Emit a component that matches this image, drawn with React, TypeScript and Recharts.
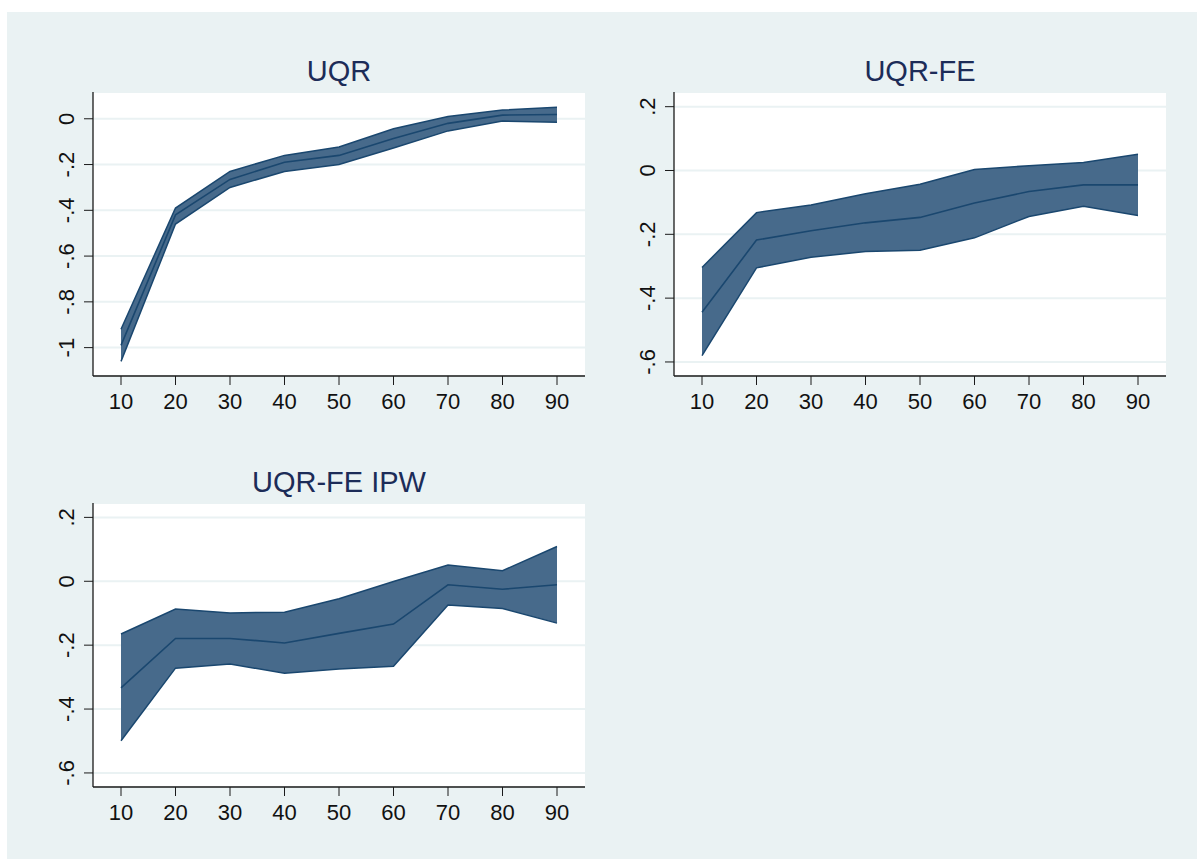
import { ComposedChart, Area, Line, XAxis, YAxis, CartesianGrid } from 'recharts';

const quantiles = [10, 20, 30, 40, 50, 60, 70, 80, 90];

// UQR
const uqrMid = [-0.99, -0.42, -0.265, -0.19, -0.16, -0.086, -0.02, 0.016, 0.019];
const uqrLo = [-1.06, -0.46, -0.3, -0.23, -0.2, -0.128, -0.053, -0.01, -0.015];
const uqrHi = [-0.92, -0.39, -0.23, -0.16, -0.123, -0.044, 0.01, 0.038, 0.05];

// UQR-FE
const feMid = [-0.444, -0.218, -0.189, -0.164, -0.147, -0.102, -0.066, -0.045, -0.045];
const feLo = [-0.58, -0.305, -0.272, -0.254, -0.25, -0.211, -0.144, -0.112, -0.141];
const feHi = [-0.304, -0.132, -0.108, -0.073, -0.043, 0.003, 0.015, 0.025, 0.051];

// UQR-FE IPW
const ipwMid = [-0.334, -0.179, -0.179, -0.193, -0.163, -0.134, -0.011, -0.025, -0.011];
const ipwLo = [-0.499, -0.272, -0.259, -0.288, -0.275, -0.266, -0.074, -0.085, -0.131];
const ipwHi = [-0.165, -0.087, -0.099, -0.097, -0.055, -0.001, 0.051, 0.033, 0.109];

const uqrTicks = [-1, -0.8, -0.6, -0.4, -0.2, 0];
const feTicks = [-0.6, -0.4, -0.2, 0, 0.2];

const FONT = '"Liberation Sans", Arial, Helvetica, sans-serif';
const BG = '#eaf2f3';
const NAVY = '#1a476f';
const BAND = '#476a8b';

const fmt = (v: number) => {
  const r = Math.round(v * 10) / 10;
  if (r === 0) return '0';
  const s = String(Math.abs(r)).replace(/^0/, '');
  return (r < 0 ? '-' : '') + s;
};

function YTick(props: any) {
  const { x, y, payload } = props;
  const bx = x - 8;
  return (
    <text x={bx} y={y} transform={`rotate(-90 ${bx} ${y})`} textAnchor="middle" fontSize={22} fill="#111" fontFamily={FONT}>
      {fmt(payload.value)}
    </text>
  );
}

function build(mid: number[], lo: number[], hi: number[]) {
  return quantiles.map((q, i) => ({ q, band: [lo[i], hi[i]], mid: mid[i] }));
}

interface PanelProps {
  title: string;
  left: number;
  top: number;
  w: number;
  h: number;
  domain: [number, number];
  ticks: number[];
  data: any[];
}

function Panel({ title, left, top, w, h, domain, ticks, data }: PanelProps) {
  const ml = 10, mt = 10, yw = 60, xh = 50;
  return (
    <>
      <div
        style={{
          position: 'absolute', left, top: top - 35, width: w, textAlign: 'center',
          fontFamily: FONT, fontSize: 29, lineHeight: '29px', color: '#1c2c58',
        }}
      >
        {title}
      </div>
      <div style={{ position: 'absolute', left: left - ml - yw, top: top - mt }}>
        <ComposedChart
          width={w + ml + yw + 10}
          height={h + mt + xh + 10}
          data={data}
          margin={{ top: mt, right: 10, left: ml, bottom: 10 }}
        >
          <CartesianGrid vertical={false} fill="#ffffff" fillOpacity={1} stroke={BG} strokeWidth={2} />
          <XAxis
            dataKey="q"
            type="number"
            domain={[10, 90]}
            ticks={quantiles}
            padding={{ left: 28, right: 28 }}
            height={xh}
            tickSize={9}
            tickMargin={8}
            stroke="#1a1a1a"
            tick={{ fontSize: 22, fill: '#111', fontFamily: FONT }}
            axisLine={{ stroke: '#1a1a1a', strokeWidth: 1.3 }}
          />
          <YAxis
            type="number"
            domain={domain}
            allowDataOverflow
            ticks={ticks}
            width={yw}
            tickSize={9}
            stroke="#1a1a1a"
            tick={<YTick />}
            axisLine={{ stroke: '#1a1a1a', strokeWidth: 1.3 }}
          />
          <Area
            type="linear"
            dataKey="band"
            fill={BAND}
            fillOpacity={1}
            stroke={NAVY}
            strokeWidth={1.5}
            dot={false}
            activeDot={false}
            isAnimationActive={false}
          />
          <Line
            type="linear"
            dataKey="mid"
            stroke={NAVY}
            strokeWidth={1.6}
            dot={false}
            activeDot={false}
            isAnimationActive={false}
          />
        </ComposedChart>
      </div>
    </>
  );
}

export default function App() {
  return (
    <div style={{ position: 'absolute', left: 0, top: 0, width: 1204, height: 863, background: '#ffffff' }}>
      <div style={{ position: 'absolute', left: 7, top: 12, width: 1190, height: 847, background: BG }} />
      <Panel title="UQR" left={93} top={92} w={492} h={284} domain={[-1.124, 0.117]} ticks={uqrTicks} data={build(uqrMid, uqrLo, uqrHi)} />
      <Panel title="UQR-FE" left={674} top={92} w={492} h={284} domain={[-0.644, 0.246]} ticks={feTicks} data={build(feMid, feLo, feHi)} />
      <Panel title="UQR-FE IPW" left={93} top={503} w={492} h={284} domain={[-0.644, 0.245]} ticks={feTicks} data={build(ipwMid, ipwLo, ipwHi)} />
    </div>
  );
}
